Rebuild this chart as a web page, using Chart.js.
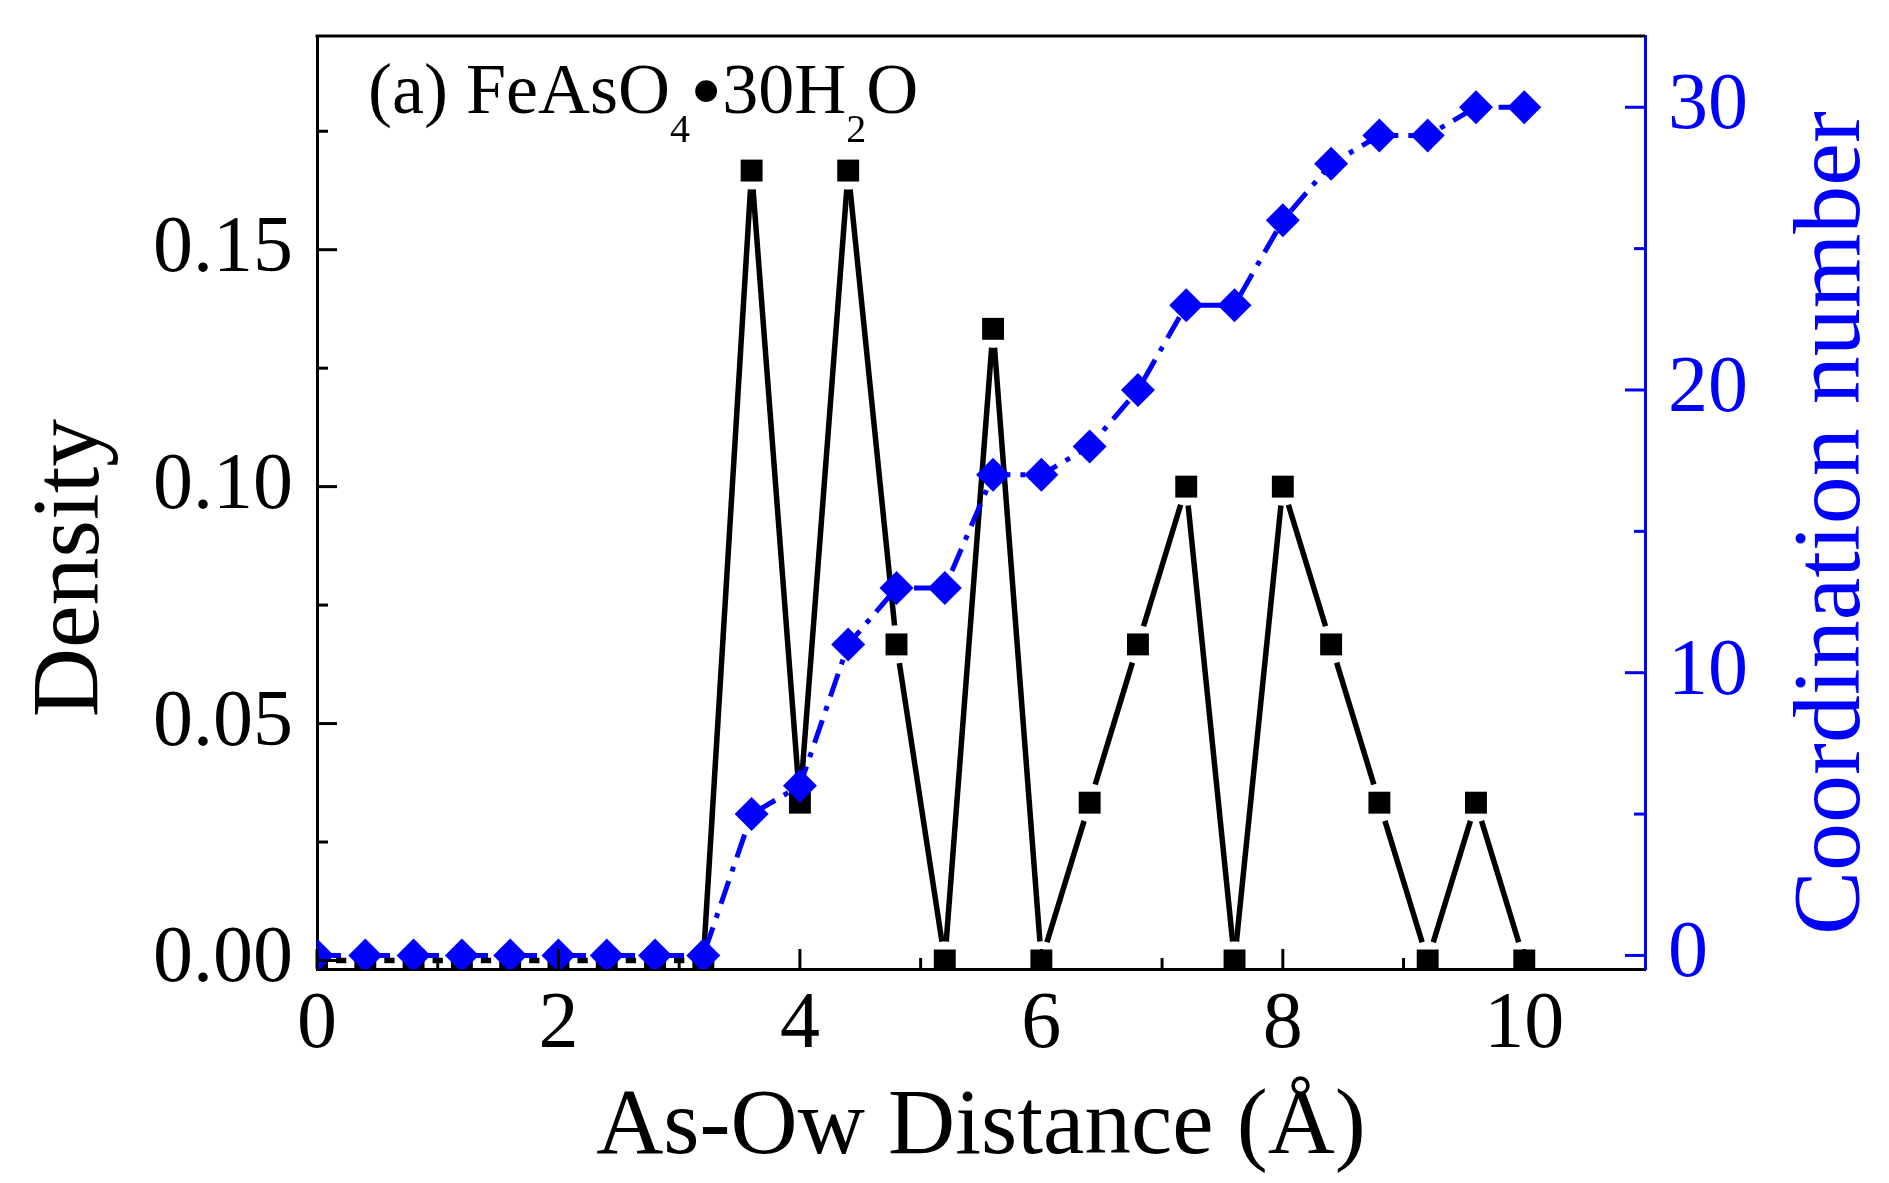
<!DOCTYPE html>
<html>
<head>
<meta charset="utf-8">
<script src="https://cdn.jsdelivr.net/npm/chart.js@4.4.1/dist/chart.umd.min.js"></script>
<style>
  html, body { margin: 0; padding: 0; background: #fff; }
  #wrap { width: 1889px; height: 1183px; }
</style>
</head>
<body>
<div id="wrap"><canvas id="chart"></canvas></div>
<script>
// As-Ow distance bins (Å)
const distance = [0, 0.4, 0.8, 1.2, 1.6, 2.0, 2.4, 2.8, 3.2, 3.6, 4.0, 4.4, 4.8,
                  5.2, 5.6, 6.0, 6.4, 6.8, 7.2, 7.6, 8.0, 8.4, 8.8, 9.2, 9.6, 10.0];
// density of water oxygens per bin (left axis)
const density = [0, 0, 0, 0, 0, 0, 0, 0, 0, 0.1667, 0.0333, 0.1667, 0.0667,
                 0, 0.1333, 0, 0.0333, 0.0667, 0.1, 0, 0.1, 0.0667, 0.0333, 0, 0.0333, 0];
// running coordination number (right axis)
const coordination = [0, 0, 0, 0, 0, 0, 0, 0, 0, 5, 6, 11, 13,
                      13, 17, 17, 18, 20, 23, 23, 26, 28, 29, 29, 30, 30];

const xTicks = [0, 2, 4, 6, 8, 10];
const xMinor = [1, 3, 5, 7, 9];
const densityTicks = [0, 0.05, 0.10, 0.15];
const densityMinor = [0.025, 0.075, 0.125, 0.175];
const cnTicks = [0, 10, 20, 30];
const cnMinor = [5, 15, 25];

const panelLabel = [
  { t: '(a) FeAsO' }, { t: '4', sub: true }, { t: '\u2022', dot: true }, { t: '30H' }, { t: '2', sub: true }, { t: 'O' }
];

const SERIF = "'Liberation Serif', 'Times New Roman', serif";
const BLUE = '#0000ff';
const GAP = 19; // Origin-style gap between line and marker

Chart.defaults.font.family = SERIF;

const decorations = {
  id: 'decorations',
  // black solid line with small gaps around every square
  beforeDatasetsDraw(chart) {
    const { ctx, chartArea: a } = chart;
    const pts = chart.getDatasetMeta(0).data;
    ctx.save();
    ctx.beginPath();
    ctx.rect(a.left, a.top, a.right - a.left, a.bottom - a.top);
    ctx.clip();
    ctx.strokeStyle = '#000';
    ctx.lineWidth = 5.5;
    for (let i = 0; i < pts.length - 1; i++) {
      const p = pts[i], q = pts[i + 1];
      const dx = q.x - p.x, dy = q.y - p.y, len = Math.hypot(dx, dy);
      if (len <= 2 * GAP) continue;
      const ux = dx / len, uy = dy / len;
      ctx.beginPath();
      ctx.moveTo(p.x + ux * GAP, p.y + uy * GAP);
      ctx.lineTo(q.x - ux * GAP, q.y - uy * GAP);
      ctx.stroke();
    }
    ctx.restore();
  },
  afterDraw(chart) {
    const { ctx, chartArea: a, scales } = chart;
    ctx.save();
    // top frame line
    ctx.strokeStyle = '#000';
    ctx.lineWidth = 3;
    ctx.beginPath();
    ctx.moveTo(a.left - 1.5, a.top);
    ctx.lineTo(a.right, a.top);
    ctx.stroke();

    // inward tick marks
    const tick = (x1, y1, x2, y2) => { ctx.beginPath(); ctx.moveTo(x1, y1); ctx.lineTo(x2, y2); ctx.stroke(); };
    ctx.strokeStyle = '#000';
    xTicks.forEach(v => { const x = scales.x.getPixelForValue(v); tick(x, a.bottom, x, a.bottom - 20); });
    xMinor.forEach(v => { const x = scales.x.getPixelForValue(v); tick(x, a.bottom, x, a.bottom - 11); });
    densityTicks.forEach(v => { const y = scales.y.getPixelForValue(v); tick(a.left, y, a.left + 20, y); });
    densityMinor.forEach(v => { const y = scales.y.getPixelForValue(v); tick(a.left, y, a.left + 11, y); });
    ctx.strokeStyle = BLUE;
    cnTicks.forEach(v => { const y = scales.y2.getPixelForValue(v); tick(a.right, y, a.right - 20, y); });
    cnMinor.forEach(v => { const y = scales.y2.getPixelForValue(v); tick(a.right, y, a.right - 11, y); });

    // vertical axis titles (both read bottom to top)
    ctx.font = '96px ' + SERIF;
    ctx.textAlign = 'center';
    ctx.textBaseline = 'alphabetic';
    ctx.fillStyle = '#000';
    ctx.save();
    ctx.translate(98, 568);
    ctx.rotate(-Math.PI / 2);
    ctx.fillText('Density', 0, 0);
    ctx.restore();
    ctx.fillStyle = BLUE;
    ctx.save();
    ctx.translate(1859, 523);
    ctx.rotate(-Math.PI / 2);
    ctx.fillText('Coordination number', 0, 0);
    ctx.restore();

    // panel label with subscripts
    ctx.fillStyle = '#000';
    ctx.textAlign = 'left';
    let x = a.left + 51;
    const base = 113;
    panelLabel.forEach(r => {
      let size = 72, y = base;
      if (r.sub) { size = 40; y = base + 29; }
      if (r.dot) { size = 92; y = base + 8; }
      ctx.font = size + 'px ' + SERIF;
      ctx.fillText(r.t, x, y);
      x += ctx.measureText(r.t).width;
    });
    ctx.restore();
  }
};

const setTicks = list => scale => { scale.ticks = list.map(v => ({ value: v })); };
const noPadV = w => s => { s.width = w; s.paddingTop = 0; s.paddingBottom = 0; };

new Chart(document.getElementById('chart'), {
  type: 'line',
  data: {
    datasets: [
      {
        label: 'Density',
        data: distance.map((x, i) => ({ x, y: density[i] })),
        yAxisID: 'y',
        showLine: false,
        pointStyle: 'rect',
        pointRadius: 15.5,
        pointBackgroundColor: '#000',
        pointBorderWidth: 0,
        clip: 0,
        order: 2
      },
      {
        label: 'Coordination number',
        data: distance.map((x, i) => ({ x, y: coordination[i] })),
        yAxisID: 'y2',
        borderColor: BLUE,
        borderWidth: 5,
        borderDash: [24, 10, 5, 10],
        tension: 0,
        pointStyle: 'rectRot',
        pointRadius: 17,
        pointBackgroundColor: BLUE,
        pointBorderColor: BLUE,
        pointBorderWidth: 0,
        clip: 0,
        order: 1
      }
    ]
  },
  options: {
    responsive: true,
    maintainAspectRatio: false,
    devicePixelRatio: 1,
    animation: false,
    events: [],
    layout: { padding: { top: 36, left: 0, right: 0, bottom: 0 } },
    plugins: { legend: { display: false }, tooltip: { enabled: false } },
    scales: {
      x: {
        type: 'linear',
        min: 0,
        max: 11,
        afterBuildTicks: setTicks(xTicks),
        afterFit: s => { s.height = 214; s.paddingLeft = 0; s.paddingRight = 0; },
        ticks: { font: { size: 80, lineHeight: 1 }, color: '#000', padding: 17, maxRotation: 0, autoSkip: false,
                 callback: v => String(v) },
        grid: { display: false, drawTicks: false },
        border: { display: true, color: '#000', width: 3 },
        title: { display: true, text: 'As-Ow Distance (\u00c5)', color: '#000',
                 font: { size: 93, lineHeight: 1 }, padding: { top: 0, bottom: 8 } }
      },
      y: {
        position: 'left',
        min: -0.0018,
        max: 0.1951,
        afterBuildTicks: setTicks(densityTicks),
        afterFit: noPadV(317),
        ticks: { font: { size: 80, lineHeight: 1 }, color: '#000', padding: 24, autoSkip: false,
                 callback: v => v.toFixed(2) },
        grid: { display: false, drawTicks: false },
        border: { display: true, color: '#000', width: 3 }
      },
      y2: {
        position: 'right',
        min: -0.48,
        max: 32.52,
        afterBuildTicks: setTicks(cnTicks),
        afterFit: noPadV(244),
        ticks: { font: { size: 80, lineHeight: 1 }, color: BLUE, padding: 23, autoSkip: false,
                 callback: v => String(v) },
        grid: { display: false, drawTicks: false },
        border: { display: true, color: BLUE, width: 3 }
      }
    }
  },
  plugins: [decorations]
});
</script>
</body>
</html>
